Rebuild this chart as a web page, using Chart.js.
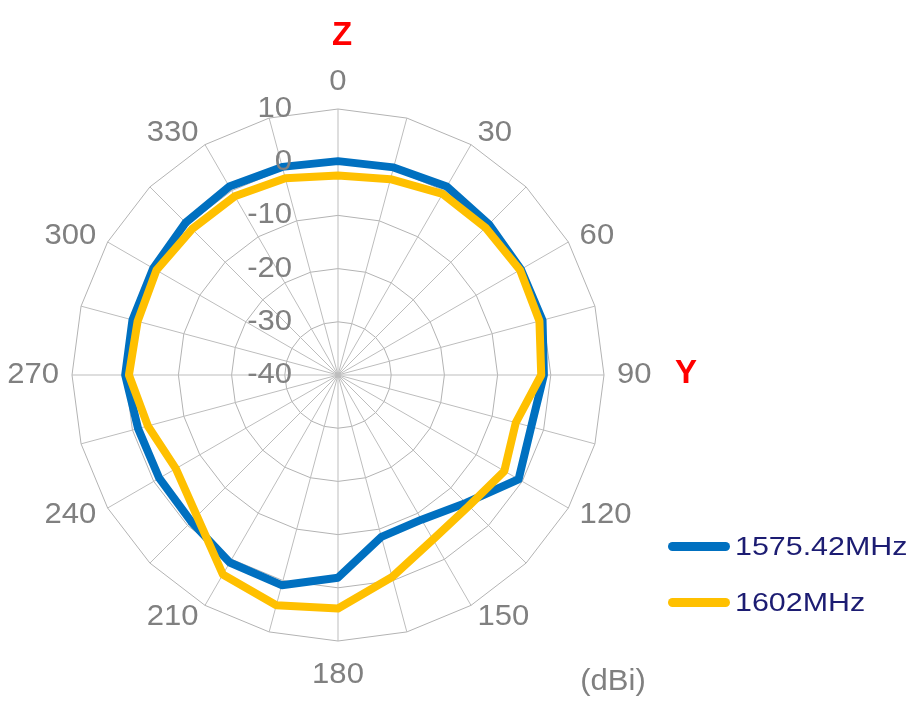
<!DOCTYPE html>
<html>
<head>
<meta charset="utf-8">
<script src="https://cdn.jsdelivr.net/npm/chart.js@4/dist/chart.umd.min.js"></script>
<style>
  body { margin: 0; background: #fff; overflow: hidden; font-family: "Liberation Sans", Arial, sans-serif; }
  #wrap { position: relative; width: 921px; height: 709px; }
  #wrap canvas { position: absolute; left: 0; top: 0; }
  .axisName { position: absolute; color: #ff0000; font-weight: bold; font-size: 33px; line-height: 1; transform: translate(-50%, -50%); }
  .unit { position: absolute; color: #808080; font-size: 29px; line-height: 1; transform: translate(-50%, -50%) scaleX(1.07); }
  .legItem { position: absolute; left: 668px; height: 0; }
  .legLine { position: absolute; left: 0; top: -4.5px; width: 62px; height: 9px; border-radius: 5px; }
  .legText { position: absolute; left: 67px; top: 0; font-size: 26px; line-height: 1; color: #1c1c72; white-space: nowrap;
             transform-origin: left center; transform: translateY(-50%) scaleX(1.17); }
</style>
</head>
<body>
<div id="wrap">
  <canvas id="polar"></canvas>
  <div class="axisName" style="left:342px; top:33px;">Z</div>
  <div class="axisName" style="left:686px; top:371px;">Y</div>
  <div class="unit" style="left:613px; top:680px;">(dBi)</div>
  <div id="legend"></div>
</div>
<script>
// angle of each measurement, degrees
const angles = [0, 15, 30, 45, 60, 75, 90, 105, 120, 135, 150, 165,
  180, 195, 210, 225, 240, 255, 270, 285, 300, 315, 330, 345];
// labels written round the rim (every other spoke left blank)
const angleLabels = ['0', '', '30', '', '60', '', '90', '', '120', '', '150', '',
  '180', '', '210', '', '240', '', '270', '', '300', '', '330', ''];
// gain ticks, dBi
const gainTicks = [10, 0, -10, -20, -30, -40];

const seriesNames = ['1575.42MHz', '1602MHz'];
const seriesColors = ['#0070c0', '#ffc000'];

const gain1575 = [0.2, 0.4, 0.9, 0.1, -0.3, -0.2, -1.3, -2.4, -0.8, -6.0, -8.6, -8.5,
  -1.9, 0.9, 0.7, -1.0, -1.2, -1.1, 0.0, 0.0, 0.1, 0.5, 0.9, 0.5];
const gain1602 = [-2.5, -1.9, -0.7, -0.8, -0.5, -0.8, -1.8, -5.4, -3.9, -5.2, -4.3, -0.7,
  3.9, 4.8, 3.3, -2.5, -4.8, -3.0, -0.7, -1.0, -0.6, -1.2, -1.2, -1.7];

const LABEL_FONT = '29px "Liberation Sans", Arial, sans-serif';
const GRAY = '#808080';
const STRETCH = 1.07;

function wideText(ctx, text, x, y) {
  ctx.save();
  ctx.translate(x, y);
  ctx.scale(STRETCH, 1);
  ctx.fillText(text, 0, 0);
  ctx.restore();
}

// draws the rim labels and gain ticks like the original (text sits on top of the lines)
const labelPlugin = {
  id: 'polarLabels',
  afterDraw(chart) {
    const scale = chart.scales.r;
    const ctx = chart.ctx;
    ctx.save();
    ctx.font = LABEL_FONT;
    ctx.fillStyle = GRAY;

    angleLabels.forEach((label, i) => {
      if (!label) return;
      const p = scale.getPointPosition(i, scale.drawingArea + 13);
      const dx = p.x - scale.xCenter;
      const dy = p.y - scale.yCenter;
      if (Math.abs(dx) < 1) {
        ctx.textAlign = 'center';
        if (dy < 0) {
          ctx.textBaseline = 'bottom';
          wideText(ctx, label, p.x, p.y);
        } else {
          ctx.textBaseline = 'top';
          wideText(ctx, label, p.x, p.y + 6);
        }
      } else {
        ctx.textAlign = dx > 0 ? 'left' : 'right';
        ctx.textBaseline = 'middle';
        wideText(ctx, label, p.x, p.y);
      }
    });

    ctx.textAlign = 'right';
    ctx.textBaseline = 'middle';
    gainTicks.forEach(v => {
      const y = scale.yCenter - scale.getDistanceFromCenterForValue(v);
      wideText(ctx, String(v), scale.xCenter - 46, y);
    });
    ctx.restore();
  }
};

const canvas = document.getElementById('polar');
canvas.style.width = '921px';
canvas.style.height = '709px';

new Chart(canvas, {
  type: 'radar',
  data: {
    labels: angles.map(String),
    datasets: [
      {
        label: seriesNames[0],
        data: gain1575,
        borderColor: seriesColors[0],
        backgroundColor: seriesColors[0],
        borderWidth: 8,
        borderJoinStyle: 'round',
        pointRadius: 0,
        fill: false,
        tension: 0,
        order: 1
      },
      {
        label: seriesNames[1],
        data: gain1602,
        borderColor: seriesColors[1],
        backgroundColor: seriesColors[1],
        borderWidth: 8,
        borderJoinStyle: 'round',
        pointRadius: 0,
        fill: false,
        tension: 0,
        order: 0
      }
    ]
  },
  options: {
    responsive: false,
    animation: false,
    layout: { padding: { left: 72, right: 317, top: 108, bottom: 67 } },
    plugins: {
      legend: { display: false },
      tooltip: { enabled: false }
    },
    scales: {
      r: {
        min: -40,
        max: 10,
        startAngle: 0,
        ticks: { display: false, stepSize: 10 },
        pointLabels: { display: false },
        grid: { color: '#b3b3b3', lineWidth: 1 },
        angleLines: { color: '#bdbdbd', lineWidth: 1 }
      }
    }
  },
  plugins: [labelPlugin]
});

// legend built from the series names/colours
const legend = document.getElementById('legend');
const legendRows = [546, 602];
seriesNames.forEach((name, i) => {
  legend.innerHTML += `
    <div class="legItem" style="top:${legendRows[i]}px">
      <div class="legLine" style="background:${seriesColors[i]}"></div>
      <div class="legText">${name}</div>
    </div>`;
});
</script>
</body>
</html>
